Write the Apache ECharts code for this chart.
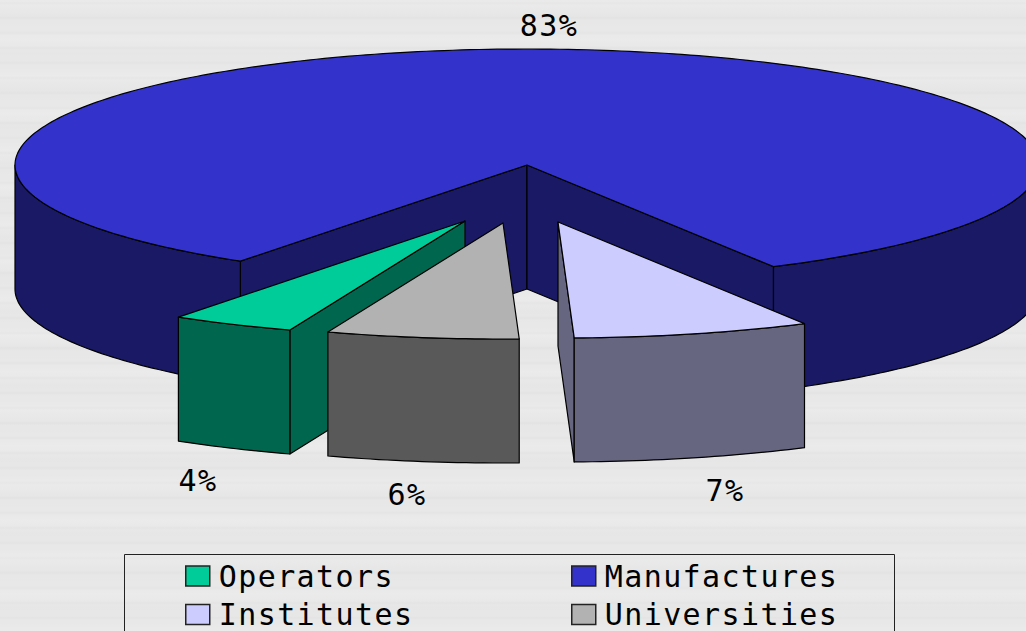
<!DOCTYPE html>
<html lang="en">
<head>
<meta charset="utf-8">
<style>
  html, body { margin: 0; height: 100%; overflow: hidden; }
  body {
    background-color: #e8e8e8;
    background-image:
      repeating-linear-gradient(0deg, rgba(0,0,0,0) 0, rgba(0,0,0,0) 11px, rgba(0,0,0,0.018) 13px, rgba(0,0,0,0) 15px),
      repeating-linear-gradient(0deg, rgba(255,255,255,0.12) 0, rgba(255,255,255,0) 9px, rgba(0,0,0,0.006) 23px, rgba(255,255,255,0.12) 37px);
  }
  #container { width: 1026px; height: 631px; }
  #container text { letter-spacing: 1.4px; }
</style>
</head>
<body>
<div id="container"></div>
<script src="https://fastly.jsdelivr.net/npm/echarts@6/dist/echarts.min.js"></script>
<script>
// chart data, in the order the slices run clockwise
var names = ['Operators', 'Manufactures', 'Institutes', 'Universities'];
var shares = [3.9, 82.55, 7.49, 6.06];

// slice look and layout
var topColors = ['#00cc99', '#3333cc', '#ccccff', '#b2b2b2'];
var sideColors = ['#00664d', '#191966', '#666680', '#595959'];
var explodeX = [-62, 0, 31, -24];
var explodeY = [56, 0, 57, 58];
var labelX = [198, 549, 725, 407];
var labelY = [480, 25, 490, 494];
var drawOrder = [2, 1, 4, 3];

var startAngle = 200;
var cx = 527, cy = 165, rx = 512, ry = 116, depth = 124;
var fontFamily = '"DejaVu Sans Mono", monospace';
var fontSize = 30;

function point(deg, ox, oy, drop) {
  var a = deg * Math.PI / 180;
  return [cx + ox + rx * Math.sin(a), cy + oy + drop - ry * Math.cos(a)];
}

function arc(from, to, ox, oy, drop) {
  var pts = [];
  var steps = Math.max(2, Math.ceil(to - from));
  for (var i = 0; i <= steps; i++) {
    pts.push(point(from + (to - from) * i / steps, ox, oy, drop));
  }
  return pts;
}

function poly(points, fill) {
  return {
    type: 'polygon',
    shape: { points: points },
    style: { fill: fill, stroke: '#000', lineWidth: 1.2, lineJoin: 'round' }
  };
}

function radialWall(deg, ox, oy, fill) {
  var c = [cx + ox, cy + oy];
  var p = point(deg, ox, oy, 0);
  return poly([c, p, [p[0], p[1] + depth], [c[0], c[1] + depth]], fill);
}

// the front half of the rim runs from 90 to 270 degrees
function rimWalls(from, to, ox, oy, fill) {
  var out = [];
  [90, 450].forEach(function (lo) {
    var a = Math.max(from, lo), b = Math.min(to, lo + 180);
    if (b > a) {
      out.push(poly(arc(a, b, ox, oy, 0).concat(arc(a, b, ox, oy, depth).reverse()), fill));
    }
  });
  return out;
}

function sliceSeries(index) {
  var before = 0;
  for (var j = 0; j < index; j++) before += shares[j];
  return {
    type: 'custom',
    name: names[index],
    coordinateSystem: 'none',
    z: drawOrder[index],
    silent: true,
    itemStyle: { color: topColors[index] },
    data: [[shares[index]]],
    renderItem: function (params, api) {
      var value = api.value(0);
      var from = startAngle + before * 3.6;
      var to = from + value * 3.6;
      var ox = explodeX[index], oy = explodeY[index];
      var side = sideColors[index];
      var kids = [];
      // a cut face shows only when it turns toward the viewer
      if (Math.sin(from * Math.PI / 180) < 0) kids.push(radialWall(from, ox, oy, side));
      if (Math.sin(to * Math.PI / 180) > 0) kids.push(radialWall(to, ox, oy, side));
      kids = kids.concat(rimWalls(from, to, ox, oy, side));
      kids.push(poly([[cx + ox, cy + oy]].concat(arc(from, to, ox, oy, 0)), topColors[index]));
      kids.push({
        type: 'text',
        style: {
          text: Math.round(value) + '%',
          x: labelX[index],
          y: labelY[index],
          align: 'center',
          verticalAlign: 'middle',
          fontFamily: fontFamily,
          fontSize: fontSize,
          fill: '#000'
        }
      });
      return { type: 'group', children: kids };
    }
  };
}

function legendColumn(left, items) {
  return {
    left: left,
    top: 561,
    height: 120,
    orient: 'vertical',
    align: 'left',
    padding: 0,
    itemWidth: 24,
    itemHeight: 20,
    itemGap: 8.5,
    selectedMode: false,
    textStyle: { fontFamily: fontFamily, fontSize: fontSize, lineHeight: 28, color: '#000', padding: [0, 0, 0, 4] },
    data: items.map(function (i) {
      return {
        name: names[i],
        icon: 'rect',
        itemStyle: { color: topColors[i], borderColor: '#222', borderWidth: 1.5 }
      };
    })
  };
}

var myChart = echarts.init(document.getElementById('container'), null, { renderer: 'svg' });
myChart.setOption({
  animation: false,
  backgroundColor: 'transparent',
  legend: [legendColumn(185, [0, 2]), legendColumn(571, [1, 3])],
  graphic: [{
    type: 'rect',
    silent: true,
    z: -1,
    shape: { x: 124.5, y: 554.5, width: 770, height: 100 },
    style: { fill: 'none', stroke: '#222', lineWidth: 1 }
  }],
  series: names.map(function (n, i) { return sliceSeries(i); })
});
</script>
</body>
</html>
